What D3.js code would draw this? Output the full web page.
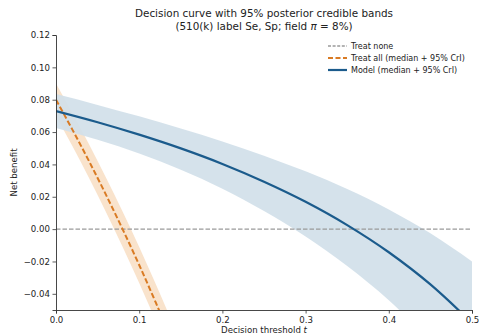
<!DOCTYPE html>
<html><head><meta charset="utf-8">
<script src="https://cdn.jsdelivr.net/npm/d3@7"></script>
<style>
body{margin:0;background:#fff;}
svg{display:block;font-family:"DejaVu Sans",sans-serif;}
</style></head>
<body><svg id="c" width="479" height="336"></svg>
<script>
// Model decision curve (median + 95% CrI)
const modelT     = [0, 0.05, 0.1, 0.15, 0.2, 0.25, 0.3, 0.35, 0.4, 0.45, 0.5];
const modelMed   = [0.0730, 0.0661, 0.0584, 0.0499, 0.0403, 0.0293, 0.0169, 0.0025, -0.0143, -0.0342, -0.0580];
const modelLo    = [0.0625, 0.0553, 0.0468, 0.0367, 0.0250, 0.0112, -0.0045, -0.0228, -0.0440, -0.0695, -0.1000];
const modelHi    = [0.0835, 0.0768, 0.0697, 0.0622, 0.0542, 0.0454, 0.0357, 0.0248, 0.0122, -0.0026, -0.0200];
// Treat all (median + 95% CrI)
const allT   = [0, 0.02, 0.04, 0.06, 0.08, 0.1, 0.12, 0.14, 0.16];
const allMed = [0.0800, 0.0612, 0.0417, 0.0213, 0.0000, -0.0222, -0.0455, -0.0698, -0.0952];
const allLo  = [0.0700, 0.0510, 0.0313, 0.0106, -0.0109, -0.0333, -0.0568, -0.0814, -0.1071];
const allHi  = [0.0900, 0.0714, 0.0521, 0.0319, 0.0109, -0.0111, -0.0341, -0.0581, -0.0833];
// Treat none
const noneT = [0, 0.5];
const noneV = [0, 0];
// Ticks
const xTicks = [0, 0.1, 0.2, 0.3, 0.4, 0.5];
const yTicks = [0.12, 0.10, 0.08, 0.06, 0.04, 0.02, 0.00, -0.02, -0.04];
const legendLabels = ["Treat none", "Treat all (median + 95% CrI)", "Model (median + 95% CrI)"];

const svg = d3.select("#c");
const L = 56, R = 472, T = 35, B = 310;
const x = d3.scaleLinear().domain([0, 0.5]).range([L, R]);
const y = d3.scaleLinear().domain([-0.05, 0.12]).range([B, T]);

const blue = "#1b5b8c", blueBand = "#d1dfe9";
const orange = "#d97b24", orangeBand = "#f9e3cc";
const grey = "#9a9a9a", axisCol = "#333";
const FS = 8.6;

svg.append("defs").append("clipPath").attr("id","clip")
  .append("rect").attr("x",L).attr("y",T).attr("width",R-L).attr("height",B-T);
const g = svg.append("g").attr("clip-path","url(#clip)");

const area = d3.area().curve(d3.curveMonotoneX);
const line = d3.line().curve(d3.curveMonotoneX);

// bands
g.append("path")
  .attr("d", area.x(i=>x(allT[i])).y0(i=>y(allLo[i])).y1(i=>y(allHi[i]))(d3.range(allT.length)))
  .attr("fill", orangeBand);
g.append("path")
  .attr("d", area.x(i=>x(modelT[i])).y0(i=>y(modelLo[i])).y1(i=>y(modelHi[i]))(d3.range(modelT.length)))
  .attr("fill", blueBand).attr("fill-opacity",0.92);

// treat none
g.append("path")
  .attr("d", line.x(i=>x(noneT[i])).y(i=>y(noneV[i]))(d3.range(noneT.length)))
  .attr("fill","none").attr("stroke",grey).attr("stroke-width",1.3).attr("stroke-dasharray","4.5,2");
// treat all
g.append("path")
  .attr("d", line.x(i=>x(allT[i])).y(i=>y(allMed[i]))(d3.range(allT.length)))
  .attr("fill","none").attr("stroke",orange).attr("stroke-width",2).attr("stroke-dasharray","5.5,2.5");
// model
g.append("path")
  .attr("d", line.x(i=>x(modelT[i])).y(i=>y(modelMed[i]))(d3.range(modelT.length)))
  .attr("fill","none").attr("stroke",blue).attr("stroke-width",2.2);

// axes
const xa = svg.append("g").attr("transform",`translate(0,${B})`)
  .call(d3.axisBottom(x).tickValues(xTicks).tickFormat(d3.format(".1f")).tickSizeOuter(0).tickSize(3.5));
const ya = svg.append("g").attr("transform",`translate(${L},0)`)
  .call(d3.axisLeft(y).tickValues(yTicks).tickFormat(d=>d3.format(".2f")(d).replace("-","\u2212")).tickSizeOuter(0).tickSize(3.5));
[xa, ya].forEach(a=>{
  a.select(".domain").attr("stroke",axisCol).attr("stroke-width",0.9);
  a.selectAll(".tick line").attr("stroke",axisCol).attr("stroke-width",0.8);
  a.selectAll(".tick text").attr("fill","#222").attr("font-size",FS).attr("font-family","DejaVu Sans");
});
xa.selectAll(".tick text").attr("dy","0.71em").attr("y",6.5);
ya.selectAll(".tick text").attr("x",-6);

// title
svg.append("text").attr("x",(L+R)/2).attr("y",17).attr("text-anchor","middle")
  .attr("font-size",10.4).attr("fill","#222").text("Decision curve with 95% posterior credible bands");
const t2 = svg.append("text").attr("x",(L+R)/2).attr("y",30).attr("text-anchor","middle")
  .attr("font-size",10.4).attr("fill","#222");
t2.append("tspan").text("(510(k) label Se, Sp; field ");
t2.append("tspan").attr("font-style","italic").text("\u03c0");
t2.append("tspan").text(" = 8%)");

// axis labels
const xl = svg.append("text").attr("x",(L+R)/2).attr("y",333).attr("text-anchor","middle")
  .attr("font-size",FS).attr("fill","#222");
xl.append("tspan").text("Decision threshold  ");
xl.append("tspan").attr("font-style","italic").text("t");
svg.append("text").attr("transform",`translate(17,${(T+B)/2}) rotate(-90)`).attr("text-anchor","middle")
  .attr("font-size",FS).attr("fill","#222").text("Net benefit");

// legend
const lg = svg.append("g");
const ly = [46, 58, 70];
const styles = [
  {c:grey, w:1.3, d:"3,1.6"},
  {c:orange, w:2, d:"5,2.5"},
  {c:blue, w:2.2, d:null}
];
styles.forEach((s,i)=>{
  const ln = lg.append("line").attr("x1",328).attr("x2",347).attr("y1",ly[i]).attr("y2",ly[i])
    .attr("stroke",s.c).attr("stroke-width",s.w);
  if (s.d) ln.attr("stroke-dasharray",s.d);
  lg.append("text").attr("x",351).attr("y",ly[i]).attr("dy","0.35em")
    .attr("font-size",8).attr("fill","#222").text(legendLabels[i]);
});
</script></body></html>
